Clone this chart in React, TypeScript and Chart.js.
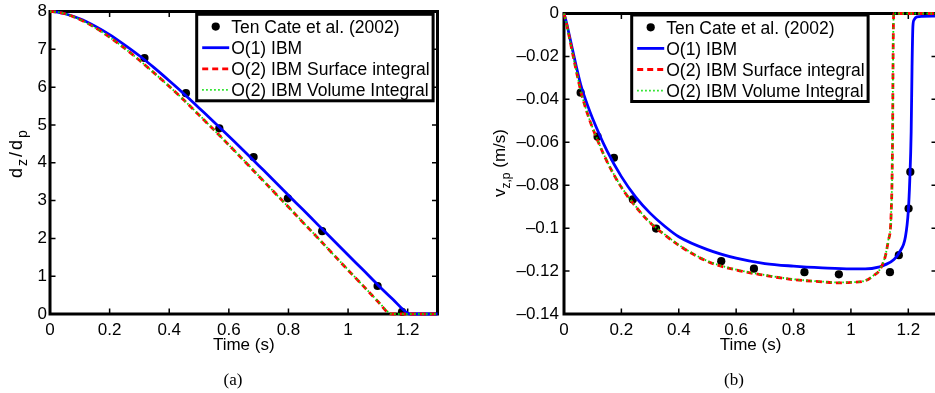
import React, { useEffect, useRef } from 'react';
import { Chart, registerables } from 'chart.js';

Chart.register(...registerables);

const SANS = '"Liberation Sans", Arial, Helvetica, sans-serif';
const SERIF = '"Liberation Serif", "Times New Roman", serif';

// ---------- shared ----------
const legendLabels = ['Ten Cate et al. (2002)', 'O(1) IBM', 'O(2) IBM Surface integral', 'O(2) IBM Volume Integral'];
const xTicks = [0, 0.2, 0.4, 0.6, 0.8, 1, 1.2];
const xTickLabels = ['0', '0.2', '0.4', '0.6', '0.8', '1', '1.2'];

// ---------- (a) d_z/d_p vs time ----------
const timeA_exp = [0.317, 0.456, 0.568, 0.683, 0.798, 0.913, 1.099, 1.181];
const dispA_exp = [6.77, 5.84, 4.91, 4.15, 3.06, 2.19, 0.74, 0.06];

const timeA_O1 = [0, 0.025, 0.05, 0.1, 0.15, 0.2, 0.25, 0.3, 0.35, 0.4, 0.45, 0.5, 0.55, 0.6, 0.65, 0.7, 0.75, 0.8, 0.85, 0.9, 0.95, 1.0, 1.05, 1.1, 1.15, 1.2, 1.21, 1.25, 1.3];
const dispA_O1 = [8.0, 7.985, 7.94, 7.81, 7.62, 7.39, 7.12, 6.83, 6.51, 6.17, 5.82, 5.45, 5.08, 4.7, 4.32, 3.93, 3.54, 3.14, 2.75, 2.35, 1.96, 1.56, 1.17, 0.77, 0.39, 0.02, 0, 0, 0];

const timeA_O2 = [0, 0.025, 0.05, 0.1, 0.15, 0.2, 0.25, 0.3, 0.35, 0.4, 0.45, 0.5, 0.55, 0.6, 0.65, 0.7, 0.75, 0.8, 0.85, 0.9, 0.95, 1.0, 1.05, 1.1, 1.14, 1.15, 1.2, 1.25, 1.3];
const dispA_O2S = [8.0, 7.985, 7.94, 7.79, 7.58, 7.32, 7.03, 6.71, 6.37, 6.02, 5.65, 5.26, 4.87, 4.47, 4.06, 3.65, 3.24, 2.83, 2.41, 2.0, 1.58, 1.16, 0.75, 0.33, 0.01, 0, 0, 0, 0];
const dispA_O2V = [8.0, 7.985, 7.94, 7.79, 7.58, 7.32, 7.03, 6.71, 6.37, 6.02, 5.65, 5.27, 4.87, 4.47, 4.07, 3.66, 3.24, 2.83, 2.42, 2.0, 1.58, 1.17, 0.75, 0.34, 0.02, 0, 0, 0, 0];

const yTicksA = [0, 1, 2, 3, 4, 5, 6, 7, 8];
const yTickLabelsA = ['0', '1', '2', '3', '4', '5', '6', '7', '8'];

// ---------- (b) v_z,p vs time ----------
const timeB_exp = [0.058, 0.117, 0.174, 0.24, 0.321, 0.548, 0.662, 0.838, 0.958, 1.136, 1.167, 1.201, 1.207];
const velB_exp = [-0.0369, -0.0574, -0.0672, -0.0866, -0.1002, -0.1154, -0.1189, -0.1205, -0.1215, -0.1205, -0.1126, -0.0909, -0.0738];

const timeB_O1 = [0, 0.01, 0.02, 0.04, 0.06, 0.08, 0.1, 0.15, 0.2, 0.25, 0.3, 0.35, 0.4, 0.5, 0.6, 0.7, 0.8, 0.9, 1.0, 1.05, 1.1, 1.12, 1.15, 1.17, 1.19, 1.2, 1.205, 1.21, 1.213, 1.216, 1.22, 1.23, 1.25, 1.3];
const velB_O1 = [0, -0.005, -0.011, -0.023, -0.034, -0.042, -0.049, -0.064, -0.076, -0.0855, -0.093, -0.099, -0.104, -0.11, -0.114, -0.1165, -0.1177, -0.1185, -0.119, -0.119, -0.118, -0.117, -0.1146, -0.111, -0.104, -0.092, -0.078, -0.055, -0.025, -0.006, -0.003, -0.0016, -0.0013, -0.0012];

const timeB_O2 = [0, 0.01, 0.02, 0.04, 0.06, 0.08, 0.1, 0.15, 0.2, 0.25, 0.3, 0.35, 0.4, 0.5, 0.6, 0.7, 0.8, 0.9, 0.95, 1.0, 1.05, 1.08, 1.1, 1.12, 1.13, 1.14, 1.145, 1.147, 1.149, 1.2, 1.25, 1.3];
const velB_O2S = [0, -0.0055, -0.012, -0.025, -0.037, -0.046, -0.0535, -0.069, -0.081, -0.09, -0.0975, -0.103, -0.108, -0.1155, -0.1195, -0.122, -0.124, -0.125, -0.1255, -0.1253, -0.1245, -0.122, -0.1195, -0.113, -0.106, -0.094, -0.06, -0.02, 0, 0, 0, 0];
const velB_O2V = [0, -0.0055, -0.012, -0.0248, -0.0368, -0.0458, -0.0533, -0.0688, -0.0808, -0.0898, -0.0973, -0.1028, -0.1078, -0.1153, -0.1193, -0.1218, -0.1238, -0.1249, -0.1253, -0.1252, -0.1244, -0.1219, -0.1194, -0.1128, -0.1058, -0.0938, -0.06, -0.02, 0, 0, 0, 0];

const yTicksB = [-0.14, -0.12, -0.1, -0.08, -0.06, -0.04, -0.02, 0];
const yTickLabelsB = ['\u20130.14', '\u20130.12', '\u20130.1', '\u20130.08', '\u20130.06', '\u20130.04', '\u20130.02', '0'];

// ---------- helpers ----------
const pts = (xs: number[], ys: number[]) => xs.map((x, i) => ({ x, y: ys[i] }));

const STY = {
  exp: { color: '#000000', radius: 4.1 },
  o1: { color: '#0000ff', width: 2.8, dash: [] as number[] },
  o2s: { color: '#ff0000', width: 2.8, dash: [6, 4] },
  o2v: { color: '#00e000', width: 1.8, dash: [1.5, 2.5] },
};

type Part = { t: string; sub?: boolean };

interface PanelSpec {
  canvasWidth: number;
  yAxisWidth: number;
  padRight: number;
  padTop: number;
  yMin: number;
  yMax: number;
  yTicks: number[];
  yTickLabels: string[];
  yPad: number;
  exp: { x: number; y: number }[];
  o1: { x: number; y: number }[];
  o2s: { x: number; y: number }[];
  o2v: { x: number; y: number }[];
  titleParts: Part[];
  titleX: number;
  titleY: number;
  titleMain: number;
  titleSub: number;
  titleGap: number;
  legendLeft: number;
  legendTop: number;
  caption: string;
  captionX: number;
}

function drawRotatedRich(ctx: CanvasRenderingContext2D, spec: PanelSpec) {
  const parts = spec.titleParts;
  ctx.save();
  ctx.translate(spec.titleX, spec.titleY);
  ctx.rotate(-Math.PI / 2);
  ctx.fillStyle = '#000';
  ctx.textAlign = 'left';
  ctx.textBaseline = 'alphabetic';
  const fonts = parts.map((p) => (p.sub ? `${spec.titleSub}px ${SANS}` : `${spec.titleMain}px ${SANS}`));
  const widths = parts.map((p, i) => {
    ctx.font = fonts[i];
    return ctx.measureText(p.t).width;
  });
  const total = widths.reduce((a, b) => a + b, 0) + spec.titleGap * (parts.length - 1);
  let x = -total / 2;
  parts.forEach((p, i) => {
    ctx.font = fonts[i];
    ctx.fillText(p.t, x, p.sub ? 4.8 : 0);
    x += widths[i] + spec.titleGap;
  });
  ctx.restore();
}

function makeDecor(spec: PanelSpec) {
  return {
    id: 'decor',
    beforeDatasetsDraw(chart: any) {
      const { ctx, chartArea: a } = chart;
      const xs = chart.scales.x;
      const ys = chart.scales.y;
      ctx.save();
      ctx.strokeStyle = '#000';
      ctx.lineWidth = 1.5;
      ctx.beginPath();
      const TL = 5.5;
      for (const t of xs.ticks) {
        const p = xs.getPixelForValue(t.value);
        ctx.moveTo(p, a.bottom);
        ctx.lineTo(p, a.bottom - TL);
        ctx.moveTo(p, a.top);
        ctx.lineTo(p, a.top + TL);
      }
      for (const t of ys.ticks) {
        const p = ys.getPixelForValue(t.value);
        ctx.moveTo(a.left, p);
        ctx.lineTo(a.left + TL, p);
        ctx.moveTo(a.right, p);
        ctx.lineTo(a.right - TL, p);
      }
      ctx.stroke();
      ctx.lineWidth = 3;
      ctx.strokeRect(a.left, a.top, a.right - a.left, a.bottom - a.top);
      ctx.restore();
    },
    afterDatasetsDraw(chart: any) {
      const { ctx } = chart;
      ctx.save();
      ctx.font = `17.5px ${SANS}`;
      const tw = Math.max(...legendLabels.map((l) => ctx.measureText(l).width));
      const lx = spec.legendLeft;
      const ly = spec.legendTop;
      const w = 34.5 + tw + 3.5;
      const h = 86.5;
      ctx.fillStyle = '#fff';
      ctx.fillRect(lx, ly, w, h);
      ctx.strokeStyle = '#000';
      ctx.lineWidth = 3;
      ctx.strokeRect(lx, ly, w, h);
      const rowY = (i: number) => ly + 12.3 + i * 21.1;
      ctx.fillStyle = STY.exp.color;
      ctx.beginPath();
      ctx.arc(lx + 19, rowY(0), STY.exp.radius, 0, Math.PI * 2);
      ctx.fill();
      const lines = [STY.o1, STY.o2s, STY.o2v];
      lines.forEach((s, k) => {
        const y = rowY(k + 1);
        ctx.strokeStyle = s.color;
        ctx.lineWidth = s.width;
        ctx.setLineDash(s.dash);
        ctx.beginPath();
        ctx.moveTo(lx + 5.5, y);
        ctx.lineTo(lx + 32.5, y);
        ctx.stroke();
      });
      ctx.setLineDash([]);
      ctx.fillStyle = '#000';
      ctx.textAlign = 'left';
      ctx.textBaseline = 'alphabetic';
      legendLabels.forEach((l, i) => ctx.fillText(l, lx + 34.5, rowY(i) + 6.4));
      ctx.restore();
    },
    afterDraw(chart: any) {
      const { ctx } = chart;
      drawRotatedRich(ctx, spec);
      ctx.save();
      ctx.fillStyle = '#000';
      ctx.font = `17px ${SERIF}`;
      ctx.textAlign = 'center';
      ctx.textBaseline = 'alphabetic';
      ctx.fillText(spec.caption, spec.captionX, 385);
      ctx.restore();
    },
  };
}

function makeConfig(spec: PanelSpec): any {
  const tickFont = { family: SANS, size: 17 };
  return {
    type: 'scatter',
    data: {
      datasets: [
        {
          label: legendLabels[0],
          data: spec.exp,
          showLine: false,
          pointRadius: STY.exp.radius,
          pointBackgroundColor: STY.exp.color,
          pointBorderWidth: 0,
          order: 4,
          clip: false,
        },
        {
          label: legendLabels[1],
          data: spec.o1,
          showLine: true,
          borderColor: STY.o1.color,
          borderWidth: STY.o1.width,
          pointRadius: 0,
          cubicInterpolationMode: 'monotone',
          order: 3,
          clip: false,
        },
        {
          label: legendLabels[2],
          data: spec.o2s,
          showLine: true,
          borderColor: STY.o2s.color,
          borderWidth: STY.o2s.width,
          borderDash: STY.o2s.dash,
          pointRadius: 0,
          cubicInterpolationMode: 'monotone',
          order: 2,
          clip: false,
        },
        {
          label: legendLabels[3],
          data: spec.o2v,
          showLine: true,
          borderColor: STY.o2v.color,
          borderWidth: STY.o2v.width,
          borderDash: STY.o2v.dash,
          pointRadius: 0,
          cubicInterpolationMode: 'monotone',
          order: 1,
          clip: false,
        },
      ],
    },
    options: {
      animation: false,
      responsive: false,
      devicePixelRatio: 1,
      events: [],
      layout: { padding: { left: 0, right: spec.padRight, top: spec.padTop, bottom: 393 - 314 - 45 } },
      plugins: { legend: { display: false }, tooltip: { enabled: false }, title: { display: false } },
      scales: {
        x: {
          type: 'linear',
          min: 0,
          max: 1.3,
          afterBuildTicks: (s: any) => {
            s.ticks = xTicks.map((v) => ({ value: v }));
          },
          afterFit: (s: any) => {
            s.height = 45;
          },
          grid: { display: false, drawTicks: false },
          border: { display: false },
          ticks: {
            font: tickFont,
            color: '#000',
            padding: 6.5,
            maxRotation: 0,
            autoSkip: false,
            callback: (_v: any, i: number) => xTickLabels[i],
          },
          title: {
            display: true,
            text: 'Time (s)',
            font: { family: SANS, size: 17 },
            color: '#000',
            padding: { top: 0, bottom: 3 },
          },
        },
        y: {
          type: 'linear',
          min: spec.yMin,
          max: spec.yMax,
          afterBuildTicks: (s: any) => {
            s.ticks = spec.yTicks.map((v) => ({ value: v }));
          },
          afterFit: (s: any) => {
            s.width = spec.yAxisWidth;
          },
          grid: { display: false, drawTicks: false },
          border: { display: false },
          ticks: {
            font: { ...tickFont, lineHeight: 1 },
            color: '#000',
            padding: spec.yPad,
            autoSkip: false,
            callback: (_v: any, i: number) => spec.yTickLabels[i],
          },
        },
      },
    },
    plugins: [makeDecor(spec)],
  };
}

const specA: PanelSpec = {
  canvasWidth: 470,
  yAxisWidth: 50,
  padRight: 470 - 437.5,
  padTop: 10,
  yMin: 0,
  yMax: 8,
  yTicks: yTicksA,
  yTickLabels: yTickLabelsA,
  yPad: 3,
  exp: pts(timeA_exp, dispA_exp),
  o1: pts(timeA_O1, dispA_O1),
  o2s: pts(timeA_O2, dispA_O2S),
  o2v: pts(timeA_O2, dispA_O2V),
  titleParts: [{ t: 'd' }, { t: 'z', sub: true }, { t: '/' }, { t: 'd' }, { t: 'p', sub: true }],
  titleX: 22,
  titleY: 154,
  titleMain: 18,
  titleSub: 14,
  titleGap: 2,
  legendLeft: 196.7,
  legendTop: 14.3,
  caption: '(a)',
  captionX: 233,
};

const specB: PanelSpec = {
  canvasWidth: 480,
  yAxisWidth: 99,
  padRight: 480 - 472,
  padTop: 10.5,
  yMin: -0.14,
  yMax: 0,
  yTicks: yTicksB,
  yTickLabels: yTickLabelsB,
  yPad: 5,
  exp: pts(timeB_exp, velB_exp),
  o1: pts(timeB_O1, velB_O1),
  o2s: pts(timeB_O2, velB_O2S),
  o2v: pts(timeB_O2, velB_O2V),
  titleParts: [{ t: 'v' }, { t: 'z,p', sub: true }, { t: ' (m/s)' }],
  titleX: 40,
  titleY: 163,
  titleMain: 17,
  titleSub: 12,
  titleGap: 0,
  legendLeft: 166.7,
  legendTop: 15,
  caption: '(b)',
  captionX: 269,
};

function Panel({ spec, left }: { spec: PanelSpec; left: number }) {
  const ref = useRef<HTMLCanvasElement | null>(null);
  useEffect(() => {
    if (!ref.current) return;
    const chart = new Chart(ref.current, makeConfig(spec));
    return () => chart.destroy();
  }, [spec]);
  return (
    <canvas
      ref={ref}
      width={spec.canvasWidth}
      height={393}
      style={{ position: 'absolute', left, top: 0, width: spec.canvasWidth, height: 393, display: 'block' }}
    />
  );
}

export default function App() {
  return (
    <div
      style={{
        position: 'fixed',
        left: 0,
        top: 0,
        width: 935,
        height: 393,
        overflow: 'hidden',
        background: '#ffffff',
      }}
    >
      <Panel spec={specA} left={0} />
      <Panel spec={specB} left={465} />
    </div>
  );
}
